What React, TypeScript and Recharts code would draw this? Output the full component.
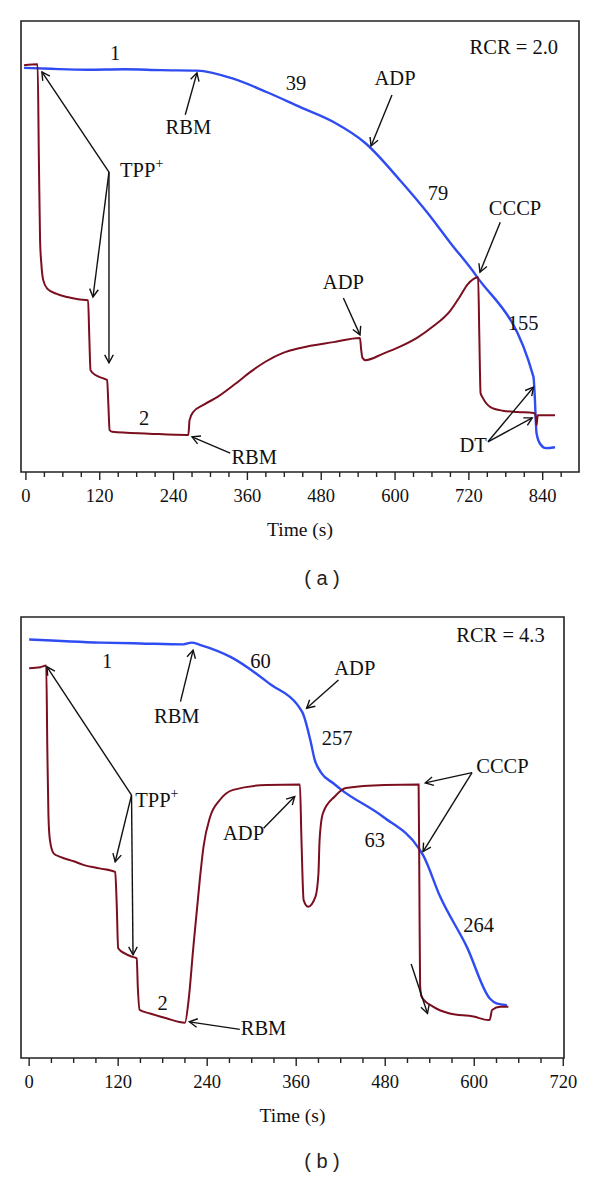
import React from "react";
import { Line, LineChart, ReferenceArea, ReferenceDot, ReferenceLine, XAxis, YAxis } from "recharts";

type Pt = { t: number; v: number };
type Note = { t: number; v: number; text: string; anchor?: "start" | "middle" | "end"; sup?: string };
type Arrow = { from: [number, number]; to: [number, number] };

const toPts = (rows: number[][]): Pt[] => rows.map(([t, v]) => ({ t, v }));

// panel (a) — time in s, signal in % of plot height
const blueA = toPts([
  [-3, 89.6], [40, 89.4], [100, 89.2], [160, 89.3], [220, 89.1], [278, 89.0], [337, 87.2], [392, 84.2],
  [446, 80.9], [500, 77.6], [552, 72.9], [608, 64.7], [652, 57.6], [690, 50.8], [732, 43.5],
  [825, 21.1], [827, 17], [830, 8.6], [836, 6.2], [845, 5.3], [860, 5.5]
]);

const redA = toPts([
  [-3, 90.2], [19, 90.4], [21, 70], [23, 51.4], [25, 46.3], [28, 42.6], [35, 40.6], [50, 39.5], [67, 38.8],
  [85, 38.3], [101, 38.1], [103, 30], [105, 22.6], [113, 21.5], [125, 20.8], [132, 20.4], [134, 15], [136, 9.3],
  [140, 8.9], [200, 8.5], [262, 8.2], [264, 8.2], [266, 11.5], [272, 13.3], [290, 15], [311, 16.6], [340, 19.5],
  [365, 22.2], [390, 24.5], [418, 26.4], [446, 27.5], [500, 28.8], [543, 29.7], [545, 27], [547, 25.3],
  [552, 24.8], [580, 26.2], [608, 27.8], [635, 29.7], [662, 32.3], [690, 35.8], [705, 38.8], [718, 41.6],
  [735, 43.2], [737, 30], [739, 17.5], [742, 16.6], [755, 14.4], [775, 13.6], [799, 13.3], [825, 13.1],
  [828, 12.8], [830, 10.4], [832, 12.6], [860, 12.6]
]);

const ticksA = [0, 30, 60, 90, 120, 150, 180, 210, 240, 270, 300, 330, 360, 390, 420, 450, 480, 510, 540, 570, 600, 630, 660, 690, 720, 750, 780, 810, 840, 870];

const notesA: Note[] = [
  { t: 865, v: 94.2, text: "RCR = 2.0", anchor: "end" },
  { t: 145, v: 92.9, text: "1" },
  { t: 439, v: 86.3, text: "39" },
  { t: 264, v: 76.5, text: "RBM" },
  { t: 153, v: 67.0, text: "TPP", sup: "+", anchor: "start" },
  { t: 600, v: 87.4, text: "ADP" },
  { t: 670, v: 61.9, text: "79" },
  { t: 795, v: 58.5, text: "CCCP" },
  { t: 516, v: 42.1, text: "ADP" },
  { t: 808, v: 33.0, text: "155" },
  { t: 727, v: 6.0, text: "DT" },
  { t: 192, v: 12.0, text: "2" },
  { t: 371, v: 3.3, text: "RBM" }
];

const arrowsA: Arrow[] = [
  { from: [259, 79.2], to: [278, 88.5] },
  { from: [135, 66.5], to: [26, 88.7] },
  { from: [135, 66.5], to: [109, 38.8] },
  { from: [135, 66.5], to: [135, 24.2] },
  { from: [595, 83.6], to: [561, 72.3] },
  { from: [771, 55.4], to: [738, 44.3] },
  { from: [516, 38.6], to: [543, 30.4] },
  { from: [751, 6.7], to: [825, 18.8] },
  { from: [751, 6.7], to: [823, 12.0] },
  { from: [332, 4.2], to: [270, 7.8] }
];

// panel (b)
const blueB = toPts([
  [0, 94.9], [96, 94.2], [150, 94.0], [208, 93.8], [219, 94.2], [230, 93.7], [272, 90.9], [323, 85.0],
  [368, 78.5], [379, 72.1], [385, 67.6], [394, 64.6], [410, 62.3], [421, 60.8], [477, 54.7], [525, 47.6],
  [531, 46.0], [554, 36.6], [590, 25.2], [621, 13.5], [630, 12.4], [644, 12.0]
]);

const redB = toPts([
  [0, 88.4], [15, 88.6], [23, 89.0], [24.5, 70], [26, 55], [28, 49.4], [33, 46.4], [42, 45.6], [60, 44.6],
  [73, 43.8], [95, 43.0], [116, 42.2], [118, 35], [120, 24.9], [130, 23.6], [138, 23.0], [145, 22.6],
  [146.5, 16], [149, 10.9], [163, 10.1], [185, 9.0], [210, 8.0], [215, 13.2], [221, 24.5], [230, 40.4],
  [235, 47.9], [244, 54.7], [257, 58.5], [275, 60.8], [320, 61.9], [365, 62.0], [367, 50], [370, 35.8],
  [376, 34.3], [386, 36.6], [390, 41.9], [391.5, 49.4], [396, 55.5], [412, 59.3], [427, 61.2], [479, 61.9],
  [525, 62.0], [526, 40], [527, 16.5], [529, 13.9], [545, 11.6], [567, 10.1], [599, 9.4], [619, 8.6],
  [621, 8.7], [624, 10.9], [635, 11.6], [646, 11.6]
]);

const ticksB = [0, 30, 60, 90, 120, 150, 180, 210, 240, 270, 300, 330, 360, 390, 420, 450, 480, 510, 540, 570, 600, 630, 660, 690, 720];

const notesB: Note[] = [
  { t: 695, v: 95.9, text: "RCR = 4.3", anchor: "end" },
  { t: 105, v: 89.9, text: "1" },
  { t: 312, v: 90.0, text: "60" },
  { t: 199, v: 77.4, text: "RBM" },
  { t: 143, v: 58.5, text: "TPP", sup: "+", anchor: "start" },
  { t: 289, v: 51.0, text: "ADP" },
  { t: 439, v: 88.4, text: "ADP" },
  { t: 415, v: 72.5, text: "257" },
  { t: 638, v: 66.1, text: "CCCP" },
  { t: 466, v: 49.4, text: "63" },
  { t: 606, v: 30.2, text: "264" },
  { t: 180, v: 12.4, text: "2" },
  { t: 316, v: 6.7, text: "RBM" }
];

const arrowsB: Arrow[] = [
  { from: [204, 80.8], to: [221, 92.5] },
  { from: [138, 59.6], to: [24, 88.7] },
  { from: [138, 59.6], to: [116, 44.5] },
  { from: [138, 59.6], to: [140, 23.4] },
  { from: [316, 52.1], to: [358, 59.3] },
  { from: [417, 85.7], to: [374, 79.3] },
  { from: [597, 64.7], to: [534, 62.4] },
  { from: [597, 64.7], to: [531, 46.8] },
  { from: [515, 21.3], to: [537, 10.1] },
  { from: [284, 6.5], to: [216, 8.2] }
];

const SERIF = '"Liberation Serif", "Times New Roman", serif';
const BLUE = "#2f4cf2";
const RED = "#7b0f1f";
const FS = 20.5;

function TimeTick(props: any) {
  const { x, y, payload } = props;
  const major = payload.value % 120 === 0;
  return (
    <g>
      <line x1={x} y1={y} x2={x} y2={y + (major ? 8 : 5)} stroke="#222" strokeWidth={1.4} />
      {major && (
        <text x={x} y={y + 30} textAnchor="middle" fontFamily={SERIF} fontSize={18.5} fill="#111">
          {payload.value}
        </text>
      )}
    </g>
  );
}

const arrowShape = (p: any) => {
  const { x1, y1, x2, y2 } = p;
  const a = Math.atan2(y2 - y1, x2 - x1);
  const len = 9;
  const spread = 0.5;
  const hx1 = x2 - len * Math.cos(a - spread);
  const hy1 = y2 - len * Math.sin(a - spread);
  const hx2 = x2 - len * Math.cos(a + spread);
  const hy2 = y2 - len * Math.sin(a + spread);
  return (
    <g>
      <line x1={x1} y1={y1} x2={x2} y2={y2} stroke="#111" strokeWidth={1.4} />
      <path d={`M${hx1},${hy1} L${x2},${y2} L${hx2},${hy2}`} fill="none" stroke="#111" strokeWidth={1.4} />
    </g>
  );
};

const noteShape = (n: Note) => (p: any) => (
  <text
    x={p.cx}
    y={p.cy + FS * 0.33}
    textAnchor={n.anchor ?? "middle"}
    fontFamily={SERIF}
    fontSize={FS}
    fill="#111"
  >
    {n.text}
    {n.sup && (
      <tspan dy={-9} fontSize={14}>
        {n.sup}
      </tspan>
    )}
  </text>
);

function Panel(props: {
  blue: Pt[];
  red: Pt[];
  ticks: number[];
  domain: [number, number];
  notes: Note[];
  arrows: Arrow[];
  height: number;
  margin: { top: number; right: number; bottom: number; left: number };
}) {
  const { blue, red, ticks, domain, notes, arrows, height, margin } = props;
  return (
    <LineChart width={600} height={height} margin={margin}>
      <XAxis
        type="number"
        dataKey="t"
        domain={domain}
        ticks={ticks}
        interval={0}
        allowDataOverflow
        axisLine={false}
        tickLine={false}
        tickSize={0}
        tickMargin={0}
        tick={<TimeTick />}
        height={70}
        label={{ value: "Time (s)", position: "insideBottom", offset: 6, fontFamily: SERIF, fontSize: 19.5, fill: "#111" }}
      />
      <YAxis type="number" domain={[0, 100]} hide allowDataOverflow />
      <ReferenceArea
        x1={domain[0]}
        x2={domain[1]}
        y1={0}
        y2={100}
        fill="none"
        stroke="#222"
        strokeWidth={1.6}
        fillOpacity={0}
        ifOverflow="visible"
      />
      <Line data={blue} dataKey="v" type="monotoneX" stroke={BLUE} strokeWidth={2.4} dot={false} isAnimationActive={false} />
      <Line data={red} dataKey="v" type="monotoneX" stroke={RED} strokeWidth={2} dot={false} isAnimationActive={false} />
      {arrows.map((a, i) => (
        <ReferenceLine
          key={`arrow-${i}`}
          segment={[{ x: a.from[0], y: a.from[1] }, { x: a.to[0], y: a.to[1] }]}
          ifOverflow="visible"
          shape={arrowShape}
        />
      ))}
      {notes.map((n, i) => (
        <ReferenceDot key={`note-${i}`} x={n.t} y={n.v} r={1} ifOverflow="visible" shape={noteShape(n)} />
      ))}
    </LineChart>
  );
}

const captionStyle: React.CSSProperties = {
  position: "absolute",
  width: 80,
  textAlign: "center",
  fontFamily: '"Liberation Sans", Arial, sans-serif',
  fontSize: 20,
  color: "#222",
  whiteSpace: "pre"
};

export default function App() {
  return (
    <div style={{ position: "absolute", left: 0, top: 0, width: 600, height: 1180, background: "#fff", overflow: "hidden" }}>
      <div style={{ position: "absolute", left: 0, top: 0 }}>
        <Panel
          blue={blueA}
          red={redA}
          ticks={ticksA}
          domain={[-8, 899]}
          notes={notesA}
          arrows={arrowsA}
          height={560}
          margin={{ top: 21, right: 21, bottom: 18, left: 21 }}
        />
      </div>
      <div style={{ ...captionStyle, left: 282, top: 567 }}>( a )</div>
      <div style={{ position: "absolute", left: 0, top: 600 }}>
        <Panel
          blue={blueB}
          red={redB}
          ticks={ticksB}
          domain={[-11, 721]}
          notes={notesB}
          arrows={arrowsB}
          height={580}
          margin={{ top: 17, right: 36, bottom: 52, left: 21 }}
        />
      </div>
      <div style={{ ...captionStyle, left: 282, top: 1150 }}>( b )</div>
    </div>
  );
}
